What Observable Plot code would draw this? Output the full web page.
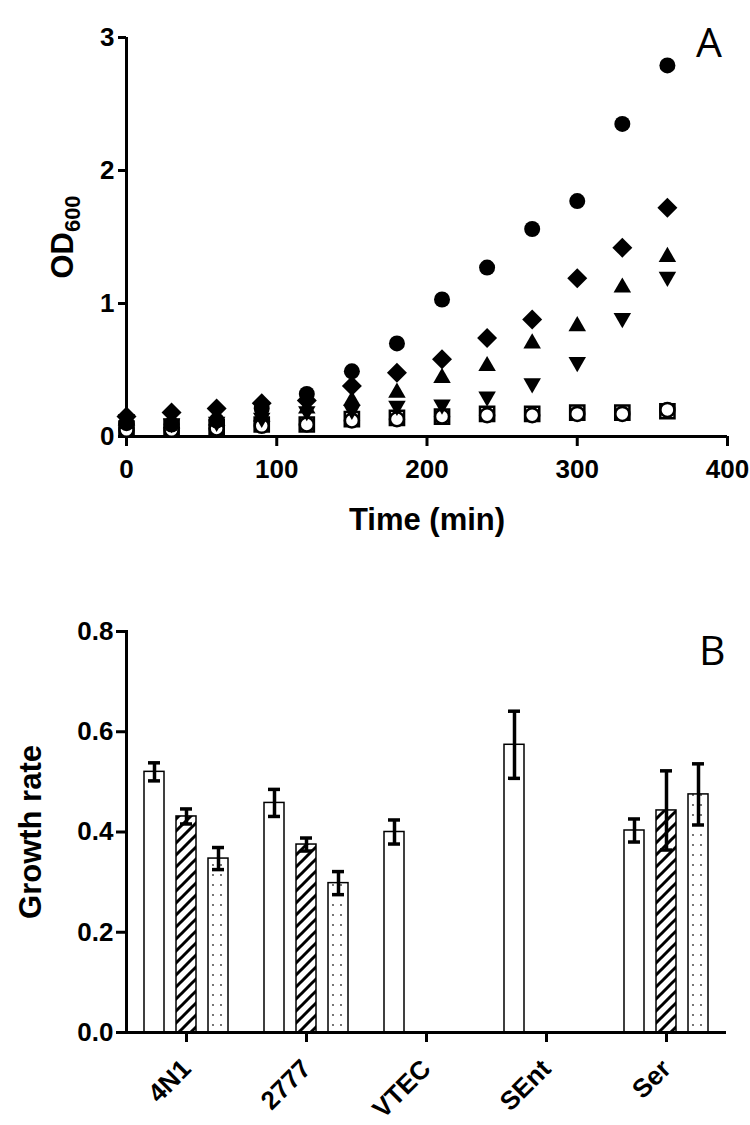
<!DOCTYPE html>
<html>
<head>
<meta charset="utf-8">
<script src="https://cdn.jsdelivr.net/npm/d3@7"></script>
<script src="https://cdn.jsdelivr.net/npm/@observablehq/plot@0.6"></script>
<style>
  body { margin: 0; background: #fff; }
  #wrap { position: relative; width: 750px; height: 1125px; overflow: hidden; }
  #top, #bottom { position: absolute; left: 0; }
  #top { top: 0; }
  #bottom { top: 550px; }
  .panel { position: absolute; font-family: "Open Sans", "Liberation Sans", sans-serif; font-size: 41px; line-height: 1; color: #000; }
  svg text { font-family: "Liberation Sans", Arial, sans-serif; }
</style>
</head>
<body>
<svg width="0" height="0" style="position:absolute">
  <defs>
    <pattern id="hatch" patternUnits="userSpaceOnUse" width="12" height="12">
      <rect width="12" height="12" fill="white"/>
      <path d="M-3,3 L3,-3 M0,12 L12,0 M9,15 L15,9" stroke="black" stroke-width="3"/>
    </pattern>
    <pattern id="dots" patternUnits="userSpaceOnUse" width="8" height="10">
      <rect width="8" height="10" fill="white"/>
      <circle cx="4" cy="5" r="0.9" fill="#333"/>
    </pattern>
  </defs>
</svg>
<div id="wrap">
  <div id="top"></div>
  <div id="bottom"></div>
  <div class="panel" style="left:696px; top:21px;">A</div>
  <div class="panel" style="left:699px; top:629px;">B</div>
</div>
<script>
// ---------- Panel A data ----------
const time = [0, 30, 60, 90, 120, 150, 180, 210, 240, 270, 300, 330, 360];
const filledCircle   = [0.10, 0.09, 0.12, 0.21, 0.32, 0.49, 0.70, 1.03, 1.27, 1.56, 1.77, 2.35, 2.79];
const filledDiamond  = [0.15, 0.18, 0.21, 0.25, 0.27, 0.38, 0.48, 0.58, 0.74, 0.88, 1.19, 1.42, 1.72];
const upTriangle     = [0.12, 0.10, 0.12, 0.15, 0.21, 0.27, 0.33, 0.44, 0.53, 0.70, 0.83, 1.12, 1.35];
const downTriangle   = [0.13, 0.10, 0.11, 0.14, 0.19, 0.20, 0.23, 0.24, 0.30, 0.40, 0.56, 0.89, 1.20];
const openSquare     = [0.06, 0.07, 0.07, 0.09, 0.09, 0.13, 0.14, 0.15, 0.17, 0.17, 0.18, 0.18, 0.19];
const openCircle     = [0.05, 0.05, 0.06, 0.08, 0.09, 0.12, 0.13, 0.15, 0.16, 0.16, 0.17, 0.17, 0.20];
const xTicksA = [0, 100, 200, 300, 400];
const yTicksA = [0, 1, 2, 3];

// ---------- Panel B data ----------
const categories = ["4N1", "2777", "VTEC", "SEnt", "Ser"];
const seriesNames = ["white", "hatched", "dotted"];
const whiteRate   = [0.520, 0.458, 0.400, 0.574, 0.403];
const whiteErr    = [0.018, 0.027, 0.024, 0.067, 0.023];
const hatchedRate = [0.431, 0.375, null, null, 0.443];
const hatchedErr  = [0.015, 0.013, null, null, 0.079];
const dottedRate  = [0.347, 0.298, null, null, 0.475];
const dottedErr   = [0.022, 0.023, null, null, 0.061];
const yTicksB = [0, 0.2, 0.4, 0.6, 0.8];

const pts = arr => time.map((t, i) => ({t, v: arr[i]}));

const axisFont = {fontSize: 26, fontWeight: "bold"};

const topPlot = Plot.plot({
  width: 750, height: 550,
  marginLeft: 126, marginRight: 23, marginTop: 37, marginBottom: 114,
  style: {fontFamily: "Liberation Sans, Arial, sans-serif", background: "white", overflow: "visible"},
  x: {domain: [0, 400]},
  y: {domain: [0, 3]},
  marks: [
    Plot.ruleY([0], {strokeWidth: 3}),
    Plot.ruleX([0], {strokeWidth: 3}),
    Plot.axisX({ticks: xTicksA, tickFormat: "d", tickSize: 10, tickPadding: 13, strokeWidth: 3, ...axisFont,
      label: "Time (min)", labelArrow: "none", labelAnchor: "center", labelOffset: 93}),
    Plot.axisY({ticks: yTicksA, tickFormat: "d", tickSize: 8, tickPadding: 4, strokeWidth: 3, ...axisFont,
      label: "OD600", labelArrow: "none", labelAnchor: "center", labelOffset: 76}),
    Plot.dot(pts(openSquare), {x: "t", y: "v", symbol: "square", r: 8, fill: "white", stroke: "black", strokeWidth: 2.5}),
    Plot.dot(pts(openCircle), {x: "t", y: "v", symbol: "circle", r: 7, fill: "white", stroke: "black", strokeWidth: 2.5}),
    Plot.dot(pts(downTriangle), {x: "t", y: "v", symbol: "triangle", rotate: 180, r: 6.5, fill: "black"}),
    Plot.dot(pts(upTriangle), {x: "t", y: "v", symbol: "triangle", r: 6.5, fill: "black"}),
    Plot.dot(pts(filledDiamond), {x: "t", y: "v", symbol: "diamond2", r: 9, fill: "black"}),
    Plot.dot(pts(filledCircle), {x: "t", y: "v", symbol: "circle", r: 8, fill: "black"})
  ]
});
document.getElementById("top").appendChild(topPlot);

const rows = [];
categories.forEach((c, i) => {
  [["white", whiteRate, whiteErr], ["hatched", hatchedRate, hatchedErr], ["dotted", dottedRate, dottedErr]]
    .forEach(([s, vals, errs]) => {
      if (vals[i] != null) rows.push({cat: c, series: s, value: vals[i], err: errs[i]});
    });
});

const fillFor = {white: "white", hatched: "url(#hatch)", dotted: "url(#dots)"};

const bottomPlot = Plot.plot({
  width: 750, height: 575,
  marginLeft: 125, marginRight: 23, marginTop: 81, marginBottom: 93,
  style: {fontFamily: "Liberation Sans, Arial, sans-serif", background: "white", overflow: "visible"},
  fx: {domain: categories, padding: 0},
  x: {domain: seriesNames, paddingInner: 0.364, paddingOuter: 0.506, axis: null},
  y: {domain: [0, 0.8]},
  marks: [
    ...seriesNames.map(s => Plot.barY(rows, {filter: d => d.series === s, fx: "cat", x: "series", y: "value",
      fill: fillFor[s], stroke: "black", strokeWidth: 1.5})),
    Plot.ruleX(rows, {fx: "cat", x: "series", y1: d => d.value - d.err, y2: d => d.value + d.err, strokeWidth: 3.5}),
    Plot.tickY(rows, {fx: "cat", x: "series", y: d => d.value + d.err, strokeWidth: 3.5, insetLeft: 4, insetRight: 4}),
    Plot.tickY(rows, {fx: "cat", x: "series", y: d => d.value - d.err, strokeWidth: 3.5, insetLeft: 4, insetRight: 4}),
    Plot.ruleY([0], {strokeWidth: 3}),
    Plot.frame({anchor: "left", facetAnchor: "left", strokeWidth: 3}),
    Plot.axisY({ticks: yTicksB, tickFormat: ".1f", tickSize: 10, tickPadding: 3, strokeWidth: 3, ...axisFont,
      label: "Growth rate", labelArrow: "none", labelAnchor: "center", labelOffset: 108}),
    Plot.axisFx({anchor: "bottom", tickSize: 10, tickPadding: 22, tickRotate: -45, strokeWidth: 3, ...axisFont, label: null})
  ]
});
document.getElementById("bottom").appendChild(bottomPlot);

// tick label sizes, axis title sizes and OD600 subscript
d3.selectAll('g[aria-label$="tick label"]').style("font-size", "26px").style("font-weight", "bold");
d3.selectAll('g[aria-label="fx-axis tick label"]').style("font-size", "28px");
d3.selectAll('g[aria-label="x-axis label"] text, g[aria-label="y-axis label"] text')
  .style("font-size", "31px").style("font-weight", "bold");
d3.select(topPlot).selectAll("text").each(function() {
  if (this.textContent === "OD600") {
    const t = d3.select(this);
    t.text("OD");
    t.append("tspan").style("font-size", "22px").attr("dy", "0.35em").text("600");
  }
});
</script>
</body>
</html>
